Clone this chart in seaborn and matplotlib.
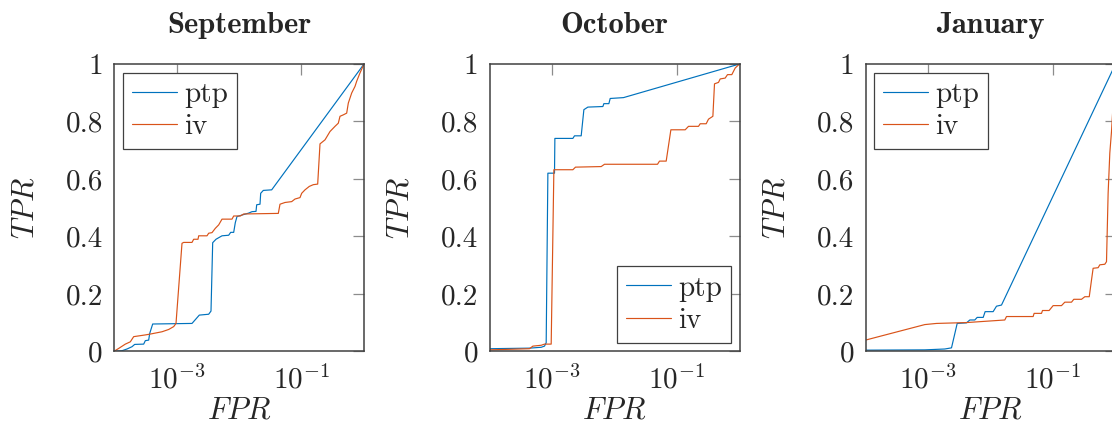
import numpy as np
import pandas as pd
import matplotlib
matplotlib.use("Agg")
import matplotlib.pyplot as plt
import seaborn as sns

# ROC curves per month: log10(FPR) and TPR for each detector
months = ["September", "October", "January"]
methods = ["ptp", "iv"]

sep_ptp_logfpr = [-4.0, -3.872, -3.792, -3.712, -3.669, -3.525, -3.499, -3.445, -3.429, -3.381,
                  -2.752, -2.635, -2.485, -2.448, -2.421, -2.368, -2.272, -2.165, -2.133, -2.085,
                  -2.059, -2.032, -1.925, -1.845, -1.792, -1.728, -1.717, -1.664, -1.653, -1.611,
                  -1.477, 0.0]
sep_ptp_tpr = [0.0, 0.002, 0.008, 0.016, 0.024, 0.025, 0.037, 0.039, 0.062, 0.095,
               0.097, 0.126, 0.129, 0.140, 0.378, 0.390, 0.402, 0.404, 0.414, 0.414,
               0.448, 0.469, 0.476, 0.481, 0.486, 0.487, 0.510, 0.512, 0.550, 0.560,
               0.562, 1.0]

sep_iv_logfpr = [-4.0, -3.925, -3.819, -3.739, -3.685, -3.499, -3.419, -3.232, -3.125, -3.045,
                 -3.008, -2.912, -2.885, -2.752, -2.725, -2.656, -2.645, -2.512, -2.485, -2.432,
                 -2.379, -2.325, -2.272, -2.112, -2.085, -1.979, -1.925, -1.371, -1.344, -1.264,
                 -1.157, -1.104, -1.024, -0.997, -0.944, -0.875, -0.811, -0.741, -0.704, -0.624,
                 -0.544, -0.464, -0.411, -0.384, -0.331, -0.277, -0.251, -0.197, -0.144, -0.117,
                 -0.064, 0.0]
sep_iv_tpr = [0.0, 0.010, 0.025, 0.033, 0.051, 0.057, 0.060, 0.068, 0.076, 0.086,
              0.097, 0.376, 0.379, 0.379, 0.390, 0.390, 0.402, 0.402, 0.411, 0.413,
              0.428, 0.440, 0.460, 0.460, 0.471, 0.471, 0.478, 0.480, 0.512, 0.518,
              0.521, 0.530, 0.535, 0.550, 0.562, 0.574, 0.580, 0.582, 0.722, 0.736,
              0.765, 0.783, 0.794, 0.818, 0.823, 0.829, 0.864, 0.899, 0.922, 0.940,
              0.969, 1.0]

oct_ptp_logfpr = [-4.0, -3.36, -3.173, -3.12, -3.093, -3.066, -2.96, -2.954, -2.666, -2.64,
                  -2.533, -2.49, -2.426, -2.186, -2.17, -2.09, -2.069, -1.856, 0.0]
oct_ptp_tpr = [0.009, 0.011, 0.014, 0.018, 0.030, 0.620, 0.620, 0.741, 0.741, 0.750,
               0.750, 0.841, 0.850, 0.852, 0.862, 0.862, 0.880, 0.883, 1.0]

oct_iv_logfpr = [-4.0, -3.36, -3.306, -3.173, -3.12, -3.013, -2.97, -2.666, -2.624, -2.213,
                 -2.16, -1.312, -1.28, -1.173, -1.098, -0.869, -0.816, -0.656, -0.629, -0.533,
                 -0.496, -0.426, -0.400, -0.336, -0.309, -0.229, -0.192, -0.123, -0.069, 0.0]
oct_iv_tpr = [0.005, 0.009, 0.018, 0.021, 0.025, 0.025, 0.632, 0.632, 0.641, 0.643,
              0.651, 0.651, 0.662, 0.662, 0.771, 0.771, 0.783, 0.783, 0.792, 0.792,
              0.808, 0.818, 0.931, 0.936, 0.948, 0.951, 0.963, 0.963, 0.986, 1.0]

jan_ptp_logfpr = [-4.0, -3.051, -2.731, -2.624, -2.533, -2.384, -2.331, -2.251, -2.213, -2.117,
                  -2.086, -1.958, -1.904, -1.824, 0.0]
jan_ptp_tpr = [0.004, 0.005, 0.008, 0.012, 0.097, 0.099, 0.109, 0.109, 0.118, 0.118,
               0.138, 0.138, 0.157, 0.161, 1.0]

jan_iv_logfpr = [-4.0, -3.051, -2.864, -2.384, -1.771, -1.744, -1.318, -1.302, -1.184, -1.168,
                 -1.062, -0.998, -0.864, -0.811, -0.704, -0.667, -0.544, -0.491, -0.420, -0.384,
                 -0.358, -0.278, -0.251, -0.171, -0.144, -0.118, -0.091, -0.064, 0.0]
jan_iv_tpr = [0.039, 0.093, 0.097, 0.100, 0.109, 0.121, 0.121, 0.132, 0.132, 0.142,
              0.142, 0.159, 0.159, 0.171, 0.171, 0.181, 0.181, 0.190, 0.190, 0.248,
              0.289, 0.291, 0.301, 0.303, 0.312, 0.550, 0.690, 0.765, 1.0]

curves = {
    "September": [(sep_ptp_logfpr, sep_ptp_tpr), (sep_iv_logfpr, sep_iv_tpr)],
    "October": [(oct_ptp_logfpr, oct_ptp_tpr), (oct_iv_logfpr, oct_iv_tpr)],
    "January": [(jan_ptp_logfpr, jan_ptp_tpr), (jan_iv_logfpr, jan_iv_tpr)],
}
legend_loc = {"September": "upper left", "October": "lower right", "January": "upper left"}

xticks = [1e-3, 1e-1]
yticks = [0, 0.2, 0.4, 0.6, 0.8, 1]
ytick_labels = ["0", "0.2", "0.4", "0.6", "0.8", "1"]
palette = {"ptp": "#0072BD", "iv": "#D95319"}

sns.set_style("white")
plt.rcParams.update({
    "font.family": ["cmr10"],
    "mathtext.fontset": "cm",
    "axes.formatter.use_mathtext": True,
    "font.size": 21,
})

W, H = 1112, 423
fig = plt.figure(figsize=(W / 100, H / 100), dpi=100)
lefts = [114, 489.5, 865.5]
ax_w, ax_top, ax_bot = 250, 64, 351.3

for month, left in zip(months, lefts):
    ax = fig.add_axes([left / W, (H - ax_bot) / H, ax_w / W, (ax_bot - ax_top) / H])
    frames = []
    for method, (lx, ty) in zip(methods, curves[month]):
        frames.append(pd.DataFrame({"FPR": 10 ** np.asarray(lx), "TPR": ty, "method": method}))
    df = pd.concat(frames, ignore_index=True)
    sns.lineplot(data=df, x="FPR", y="TPR", hue="method", palette=palette,
                 estimator=None, sort=False, linewidth=0.85, ax=ax)
    ax.set_xscale("log")
    ax.set_xlim(1e-4, 1)
    ax.set_ylim(0, 1)
    ax.set_xticks(xticks)
    ax.xaxis.set_minor_locator(matplotlib.ticker.NullLocator())
    ax.set_yticks(yticks)
    ax.set_yticklabels(ytick_labels)
    ax.tick_params(direction="in", length=8, width=0.9, color="0.55", pad=8,
                   top=True, right=True, labelsize=21)
    ax.tick_params(axis="x", pad=10)
    for s in ax.spines.values():
        s.set_color("0.25")
        s.set_linewidth(1.1)
    ax.set_title(month, fontfamily="cmb10", fontsize=22, pad=22)
    ax.set_xlabel(r"$FPR$", fontsize=22)
    ax.set_ylabel(r"$TPR$", fontsize=22)
    ax.xaxis.set_label_coords(0.5, -0.158)
    ax.yaxis.set_label_coords(-0.30, 0.5)

    old = ax.get_legend()
    handles = old.legend_handles
    labels = [t.get_text() for t in old.get_texts()]
    old.remove()
    leg = ax.legend(handles, labels, loc=legend_loc[month], fontsize=21,
                    frameon=True, fancybox=False, framealpha=1, edgecolor="0.25",
                    handlelength=1.55, handletextpad=0.25, borderpad=0.3,
                    labelspacing=0.2, borderaxespad=0.3)
    leg.get_frame().set_linewidth(0.9)
    for h in leg.legend_handles:
        h.set_linewidth(0.85)

fig.savefig("out.png", dpi=100)
